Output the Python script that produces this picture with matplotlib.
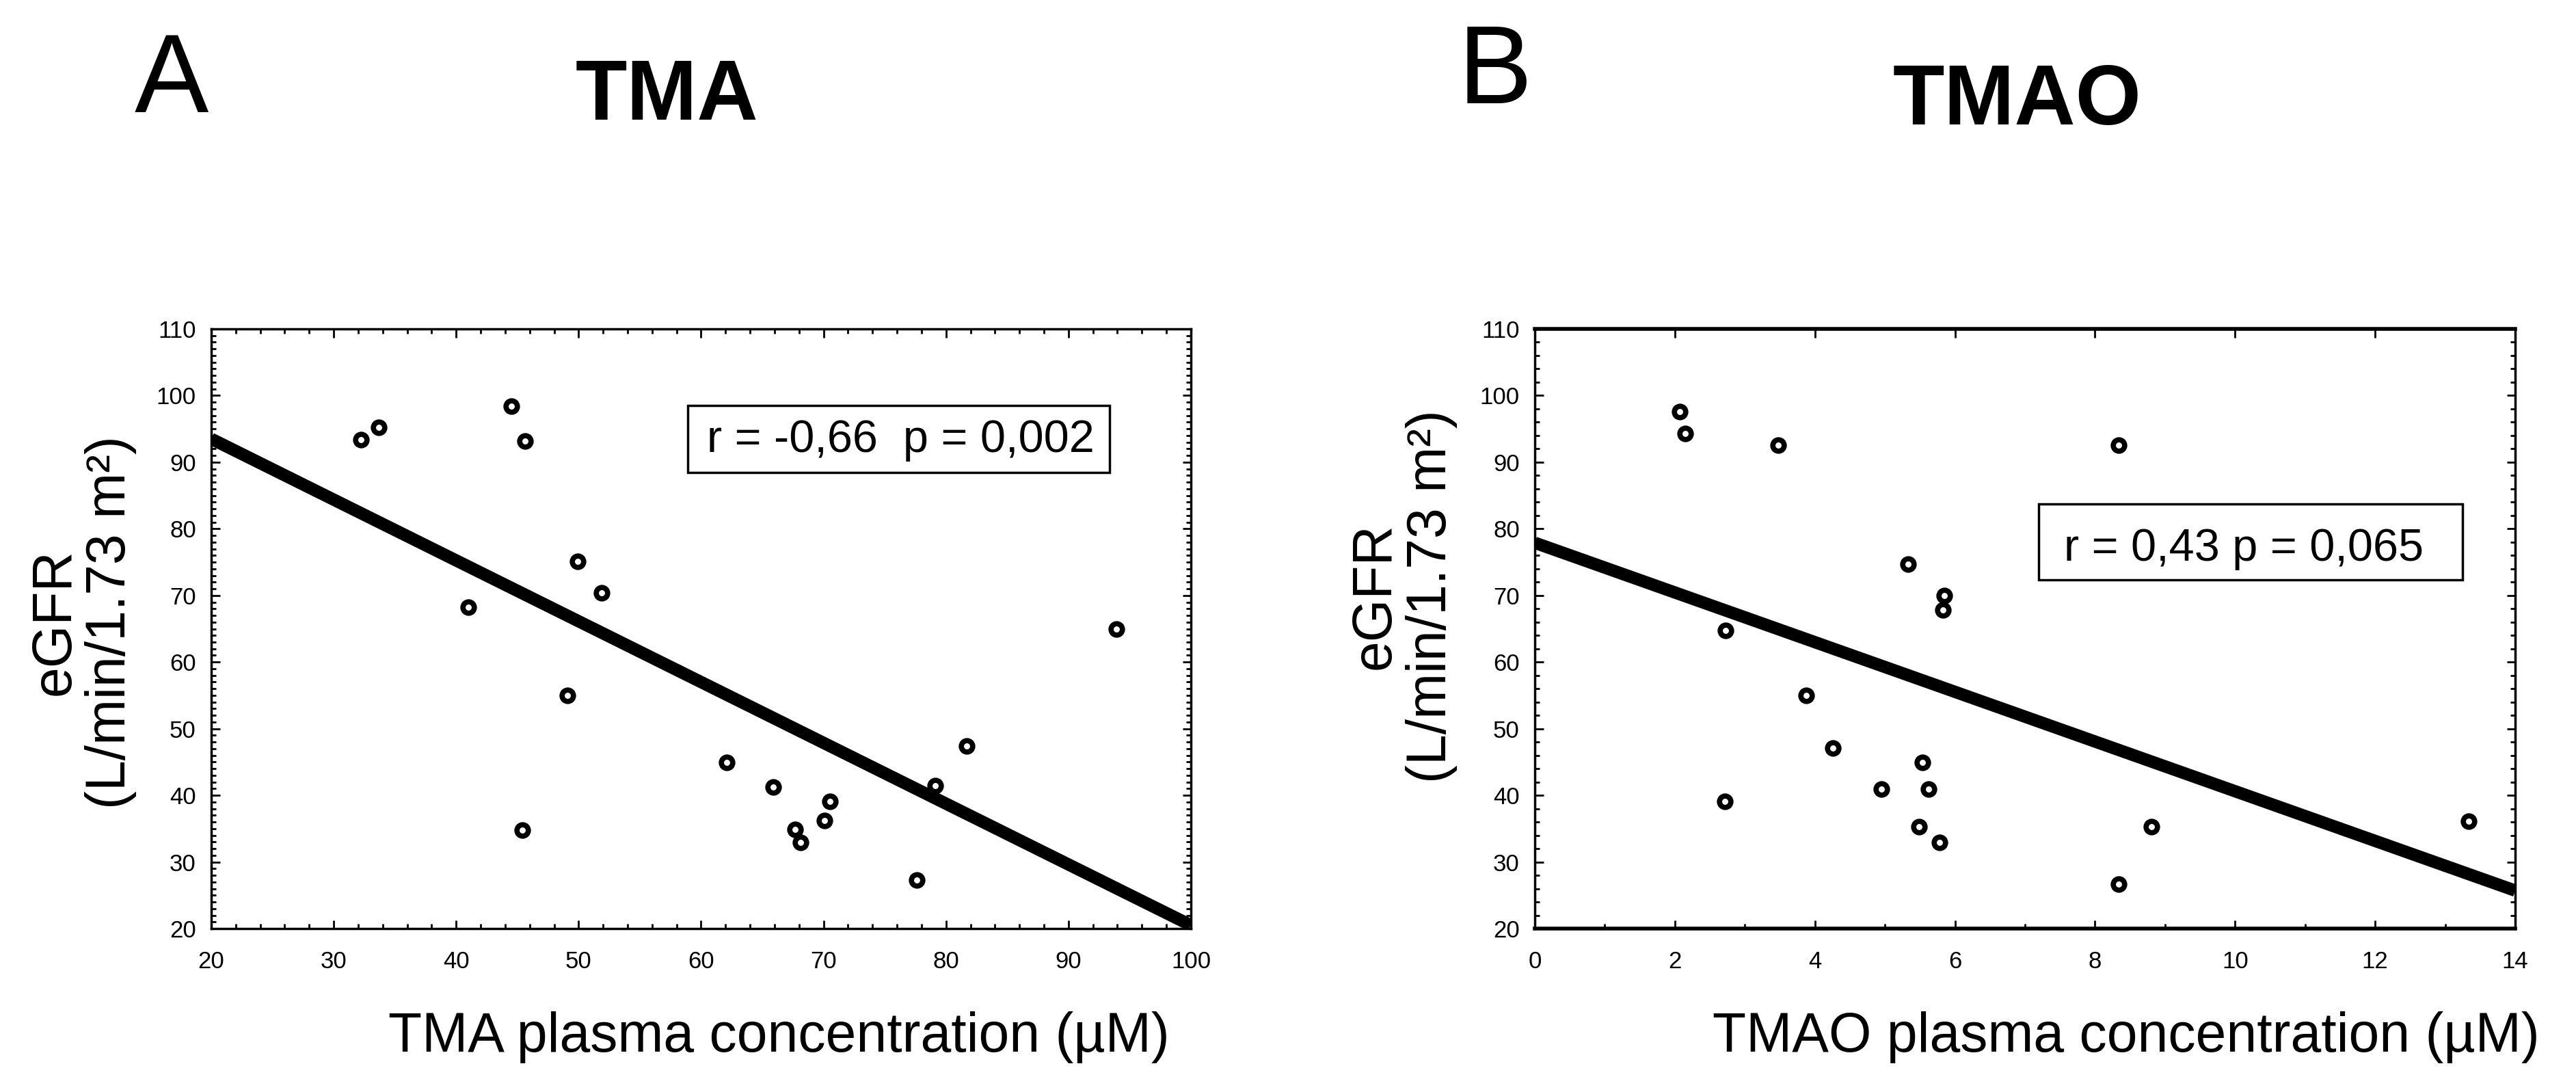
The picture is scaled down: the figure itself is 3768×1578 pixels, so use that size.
import numpy as np
import matplotlib
matplotlib.use("Agg")
import matplotlib.pyplot as plt
from matplotlib.ticker import MultipleLocator
from matplotlib.patches import Rectangle

plt.rcParams["font.family"] = ["Liberation Sans", "DejaVu Sans"]

# panel A: TMA
tma_x = [32.2, 33.7, 44.5, 45.6, 41.0, 49.9, 51.9, 49.1, 45.4, 62.1,
         65.9, 70.5, 70.1, 67.7, 68.1, 79.1, 81.7, 77.6, 93.9]
tma_egfr = [93.4, 95.2, 98.4, 93.2, 68.2, 75.1, 70.4, 55.0, 34.8, 44.9,
            41.2, 39.1, 36.2, 34.9, 32.9, 41.4, 47.4, 27.3, 65.0]
tma_fit_x = [20, 100]
tma_fit_y = [93.5, 20.5]
tma_stats = "r = -0,66  p = 0,002"

# panel B: TMAO
tmao_x = [2.07, 2.15, 3.48, 8.34, 5.33, 5.85, 5.83, 2.72, 3.88, 4.26,
          5.54, 4.95, 5.62, 2.71, 5.49, 5.78, 8.81, 13.34, 8.34]
tmao_egfr = [97.6, 94.3, 92.6, 92.6, 74.7, 70.0, 67.8, 64.7, 55.0, 47.1,
             44.9, 40.9, 40.9, 39.1, 35.3, 32.9, 35.3, 36.1, 26.7]
tmao_fit_x = [0, 14]
tmao_fit_y = [77.9, 25.7]
tmao_stats = "r = 0,43 p = 0,065"

ylabel = "eGFR\n(L/min/1.73 m\u00b2)"

fig = plt.figure(figsize=(37.68, 15.78), dpi=100)
axA = fig.add_axes([0.082, 0.1394, 0.3803, 0.5558])
axB = fig.add_axes([0.5958, 0.1394, 0.3806, 0.5558])


def draw_panel(ax, x, y, fx, fy, xlim, xmaj, xmin, ymin, xlab, stats, box, txt, ylab_pos):
    ax.plot(fx, fy, color="black", lw=13, solid_capstyle="butt", zorder=2)
    ax.plot(x, y, "o", ms=12, mfc="white", mec="black", mew=5.5, zorder=3)
    ax.set_xlim(*xlim)
    ax.set_ylim(20, 110)
    ax.xaxis.set_major_locator(MultipleLocator(xmaj))
    ax.xaxis.set_minor_locator(MultipleLocator(xmin))
    ax.yaxis.set_major_locator(MultipleLocator(10))
    ax.yaxis.set_minor_locator(MultipleLocator(ymin))
    ax.tick_params(which="both", direction="in", top=True, right=True,
                   labelsize=25, width=2)
    ax.tick_params(which="major", length=9)
    ax.tick_params(which="minor", length=5)
    ax.tick_params(axis="x", pad=23)
    ax.tick_params(axis="y", pad=16)
    for s in ax.spines.values():
        s.set_linewidth(2.5)

    ax.set_xlabel(xlab, fontsize=58, ha="left", va="baseline")
    ax.xaxis.set_label_coords(0.181, -0.2052)
    ax.set_ylabel(ylabel, fontsize=58, ha="center", va="center", linespacing=1.1)
    ax.yaxis.set_label_coords(*ylab_pos)

    x0, y0, x1, y1 = box
    ax.add_patch(Rectangle((x0, y0), x1 - x0, y1 - y0, transform=ax.transAxes,
                           facecolor="white", edgecolor="black", lw=2.5, zorder=4))
    ax.text(txt[0], txt[1], stats, transform=ax.transAxes, fontsize=48,
            ha="center", va="baseline", zorder=5)


draw_panel(axA, tma_x, tma_egfr, tma_fit_x, tma_fit_y, (20, 100), 10, 2, 1,
           "TMA plasma concentration (\u00b5M)", tma_stats,
           (0.4864, 0.7605, 0.9170, 0.8723), (0.704, 0.7948), (-0.131, 0.511))
draw_panel(axB, tmao_x, tmao_egfr, tmao_fit_x, tmao_fit_y, (0, 14), 2, 1, 2,
           "TMAO plasma concentration (\u00b5M)", tmao_stats,
           (0.5139, 0.5815, 0.9463, 0.7081), (0.7232, 0.6135), (-0.134, 0.554))
axB.tick_params(which="minor", top=False)
for side in ("top", "bottom"):
    axB.spines[side].set_linewidth(4)

# panel letters and titles
fig.text(197 / 3768, 1 - 164 / 1578, "A", fontsize=117, ha="left", va="baseline")
fig.text(2133 / 3768, 1 - 151 / 1578, "B", fontsize=117, ha="left", va="baseline")
fig.text(975 / 3768, 1 - 175 / 1578, "TMA", fontsize=89, fontweight="bold",
         ha="center", va="baseline")
fig.text(2951 / 3768, 1 - 182 / 1578, "TMAO", fontsize=89, fontweight="bold",
         ha="center", va="baseline")

fig.savefig("out.png", dpi=100, facecolor="white")
